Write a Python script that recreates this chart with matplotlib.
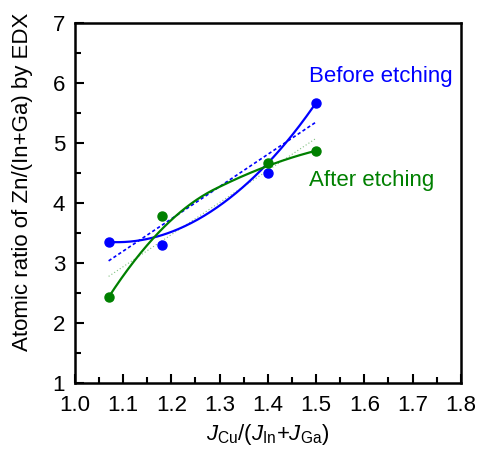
import numpy as np
import matplotlib
matplotlib.use("Agg")
import matplotlib.pyplot as plt

plt.rcParams['font.family'] = ['Liberation Sans', 'DejaVu Sans']
plt.rcParams['mathtext.fontset'] = 'custom'
plt.rcParams['mathtext.rm'] = 'Liberation Sans'
plt.rcParams['mathtext.it'] = 'Liberation Sans:italic'

# Data
x_ratio = [1.07, 1.18, 1.40, 1.50]
before_etching = [3.35, 3.30, 4.50, 5.67]
after_etching = [2.43, 3.79, 4.67, 4.87]

xticks = [1.0, 1.1, 1.2, 1.3, 1.4, 1.5, 1.6, 1.7, 1.8]
yticks = [1, 2, 3, 4, 5, 6, 7]

BLUE = '#0000ff'
GREEN = '#008000'


def bspline2(xs, ys, n=100):
    """Clamped quadratic B-spline using data points as control points."""
    P = np.column_stack([xs, ys]).astype(float)
    pts = []
    k = len(P)
    for i in range(1, k - 1):
        start = P[0] if i == 1 else (P[i - 1] + P[i]) / 2
        end = P[-1] if i == k - 2 else (P[i] + P[i + 1]) / 2
        c = P[i]
        s = np.linspace(0, 1, n)[:, None]
        seg = (1 - s) ** 2 * start + 2 * s * (1 - s) * c + s ** 2 * end
        pts.append(seg)
    pts = np.vstack(pts)
    return pts[:, 0], pts[:, 1]


fig = plt.figure(figsize=(4.83, 4.5), dpi=100)
ax = fig.add_axes([0.155, 0.149, 0.799, 0.800])

for ys, col, ls, lw, alpha in [(before_etching, BLUE, (0, (2, 1.5)), 1.2, 1.0),
                               (after_etching, GREEN, (0, (1, 2)), 0.8, 0.5)]:
    m, b = np.polyfit(x_ratio, ys, 1)
    xf = np.array([min(x_ratio), max(x_ratio)])
    ax.plot(xf, m * xf + b, color=col, linestyle=ls, linewidth=lw, alpha=alpha, zorder=2)

for ys, col in [(before_etching, BLUE), (after_etching, GREEN)]:
    bx, by = bspline2(x_ratio, ys)
    ax.plot(bx, by, color=col, linewidth=1.6, zorder=3)
    ax.plot(x_ratio, ys, 'o', color=col, markersize=6.5, zorder=4)

ax.text(1.485, 6.1, 'Before etching', color=BLUE, fontsize=16, ha='left', va='center')
ax.text(1.485, 4.38, 'After etching', color=GREEN, fontsize=16, ha='left', va='center')

ax.set_xlim(1.0, 1.8)
ax.set_ylim(1, 7)
ax.set_xticks(xticks)
ax.set_xticklabels([f'{v:.1f}' for v in xticks])
ax.set_yticks(yticks)
ax.set_xticks(np.arange(1.05, 1.8, 0.1), minor=True)
ax.set_yticks(np.arange(1.5, 7, 1.0), minor=True)

ax.tick_params(which='both', direction='in', top=False, right=False, width=1.5)
ax.tick_params(which='major', length=6.5, labelsize=16)
ax.tick_params(axis='x', which='major', pad=9)
ax.tick_params(axis='y', which='major', pad=7)
ax.tick_params(which='minor', length=4)
for sp in ax.spines.values():
    sp.set_linewidth(1.8)

ax.set_ylabel('Atomic ratio of Zn/(In+Ga) by EDX', fontsize=16)
ax.yaxis.set_label_coords(-0.108, 0.558)
ax.set_xlabel(r'$J_{\mathrm{Cu}}/(J_{\mathrm{In}}$+$J_{\mathrm{Ga}})$', fontsize=16, labelpad=4)

fig.savefig('out.png', dpi=100)
